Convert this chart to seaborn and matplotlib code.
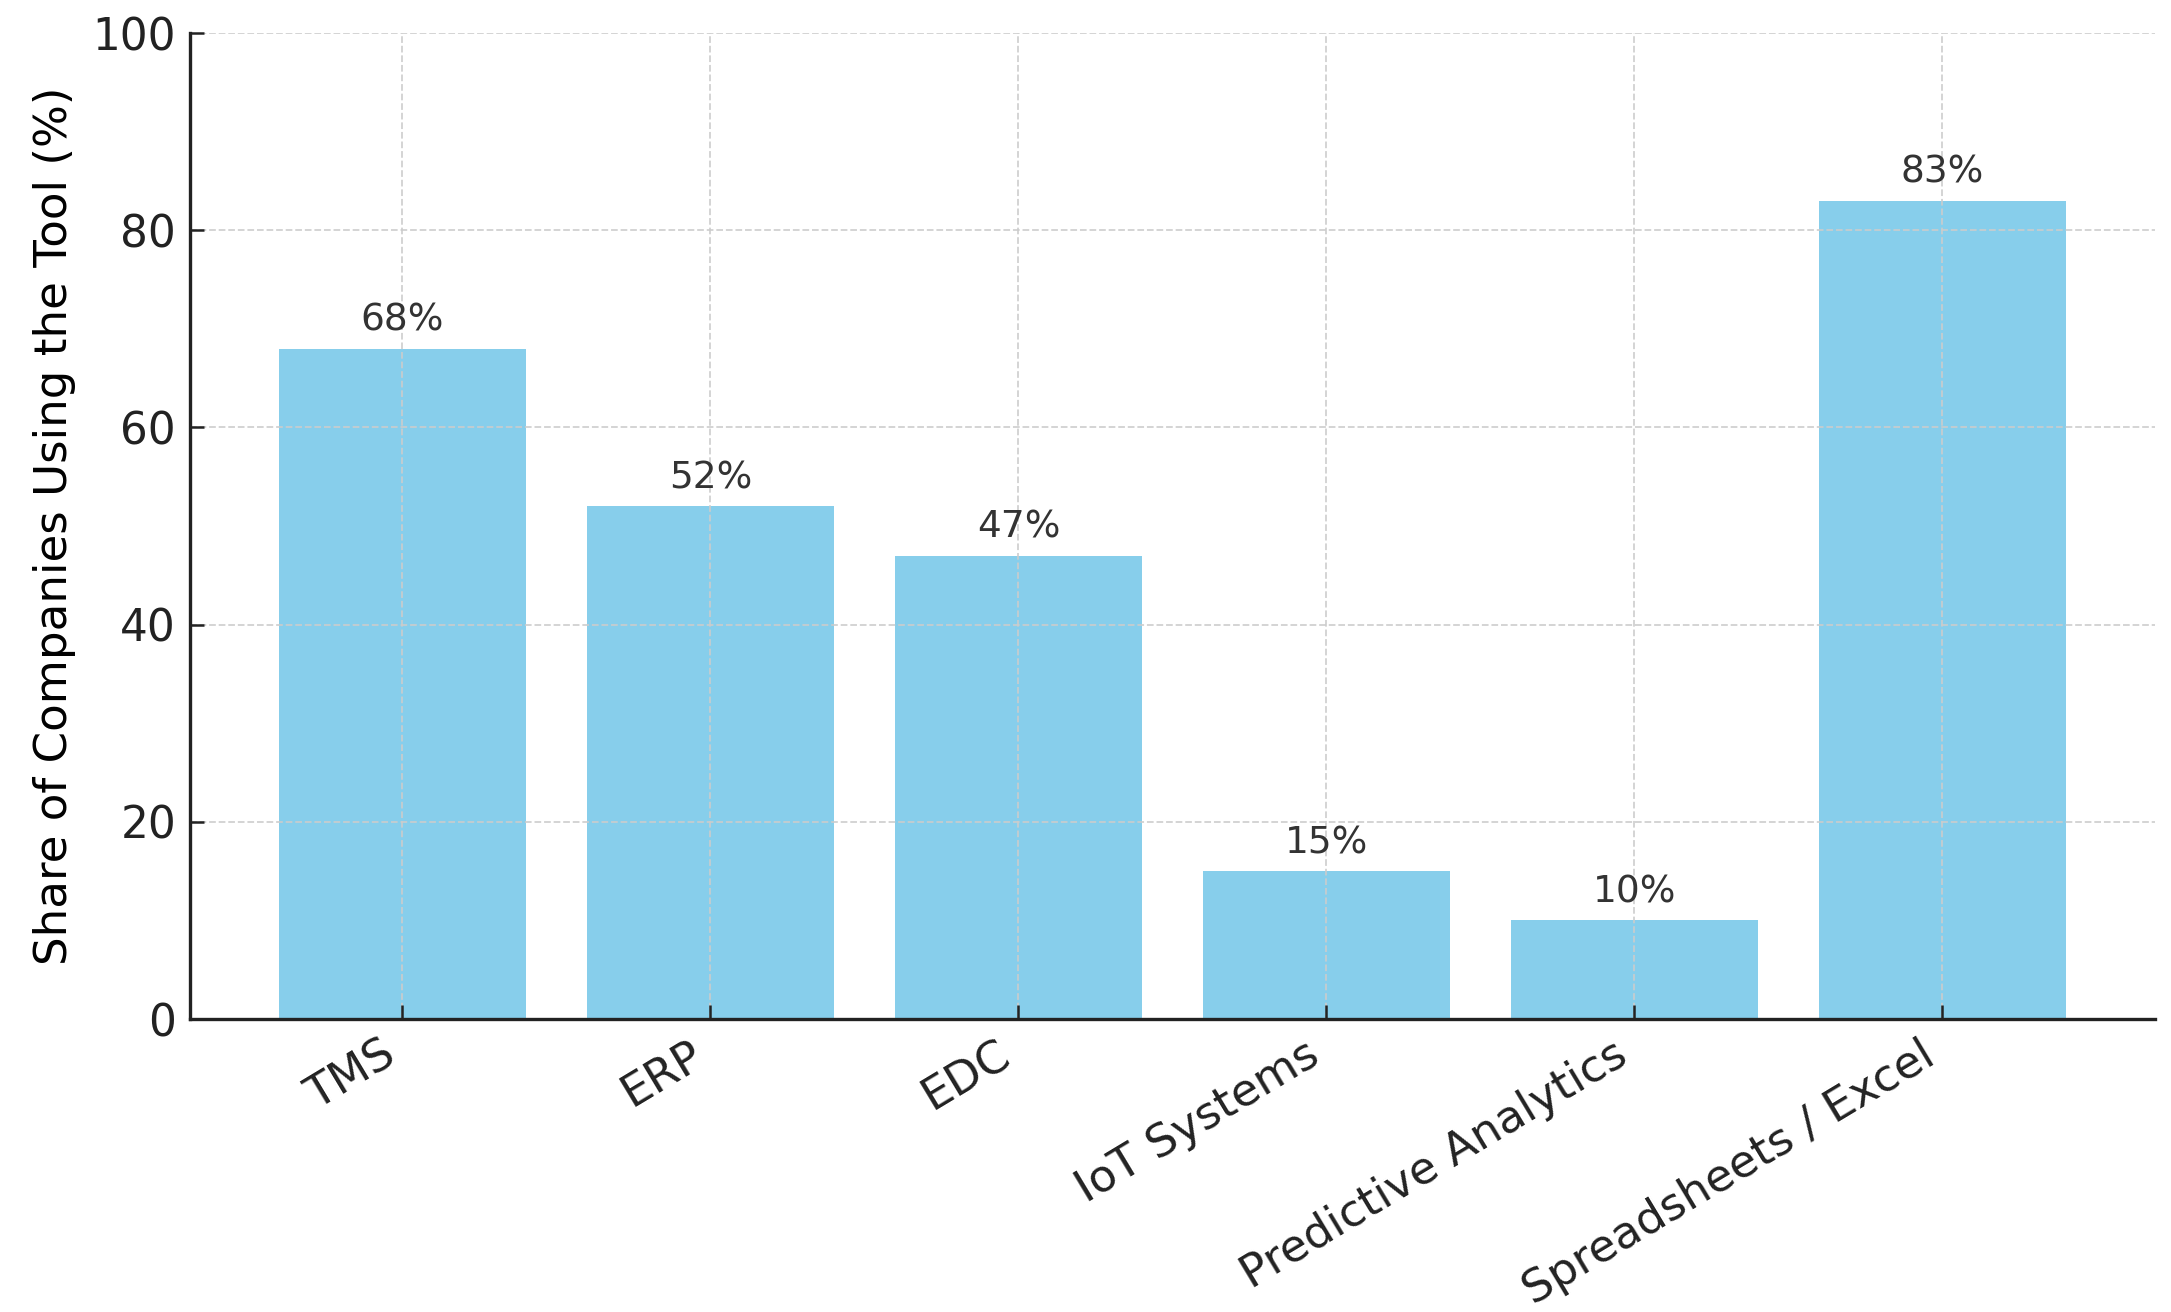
import matplotlib
matplotlib.use("Agg")
import matplotlib.pyplot as plt
import seaborn as sns
import pandas as pd

categories = ["TMS", "ERP", "EDC", "IoT Systems", "Predictive Analytics", "Spreadsheets / Excel"]
values = [68, 52, 47, 15, 10, 83]
yticks = [0, 20, 40, 60, 80, 100]

plt.rcParams['font.family'] = ['DejaVu Sans']
df = pd.DataFrame({"tool": categories, "share": values})

fig, ax = plt.subplots(figsize=(21.71, 13.12), dpi=100)
fig.subplots_adjust(left=0.0875, right=0.9926, top=0.9748, bottom=0.2233)

sns.barplot(data=df, x="tool", y="share", color="#87CEEB", saturation=1, width=0.8, ax=ax, zorder=1)

for i, v in enumerate(values):
    ax.text(i, v + 1, f"{v}%", ha="center", va="bottom", fontsize=27, color="#333333")

ax.set_xlim(-0.69, 5.69)
ax.set_ylim(0, 100)
ax.set_yticks(yticks)
ax.set_xlabel("")
ax.set_ylabel("Share of Companies Using the Tool (%)", fontsize=32.5, labelpad=12)
ax.set_axisbelow(False)
ax.grid(True, linestyle="--", color="#cccccc", linewidth=1.3, alpha=0.9, zorder=1.5)
ax.spines["top"].set_visible(False)
ax.spines["right"].set_visible(False)
for s in ["left", "bottom"]:
    ax.spines[s].set_linewidth(2.4)
    ax.spines[s].set_color("#222222")
    ax.spines[s].set_zorder(5)
ax.tick_params(axis="both", direction="in", length=10, width=1.8, colors="#222222")
ax.tick_params(axis="y", labelsize=31.5, pad=10)
ax.tick_params(axis="x", labelsize=32.5, pad=10)
plt.setp(ax.get_xticklabels(), rotation=31, ha="right", rotation_mode="default")

fig.savefig("out.png", dpi=100, facecolor="white")
